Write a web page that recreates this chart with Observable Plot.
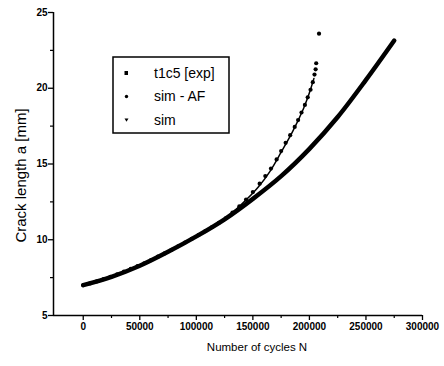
<!DOCTYPE html>
<html><head><meta charset="utf-8">
<script src="https://cdn.jsdelivr.net/npm/d3@7"></script>
<script src="https://cdn.jsdelivr.net/npm/@observablehq/plot@0.6"></script>
<style>
body{margin:0;background:#fff;}
#wrap{position:relative;width:444px;height:366px;}
</style></head><body><div id="wrap"></div>
<script>
const simN = [0,25000,50000,75000,100000,125000,150000,175000,200000,225000,250000,275000];
const simA = [7.0,7.55,8.28,9.2,10.22,11.35,12.7,14.2,16.0,18.1,20.55,23.15];
const simAfN = [0,25000,50000,75000,100000,125000,135000,145000,155000,165000,175000,185000,195000,200000,204000];
const simAfA = [7.0,7.55,8.28,9.2,10.22,11.37,12.0,12.7,13.5,14.5,15.78,17.12,18.7,19.7,20.65];
const expN = [0,6000,12000,18000,24000,30000,36000,42000,48000,54000,60000,66000,72000,78000,84000,90000,96000,102000,108000,114000,120000,126000,132000,138000,144000,150000,156000,161000,166000,171000,175000,179000,183000,187000,190000,193000,196000,198500,201000,203000,204500,205500,206000,208500];
const expA = [7.0,7.12,7.25,7.4,7.55,7.72,7.9,8.08,8.26,8.45,8.66,8.88,9.1,9.33,9.57,9.82,10.06,10.31,10.57,10.84,11.12,11.42,11.8,12.2,12.65,13.15,13.7,14.2,14.7,15.3,15.85,16.4,16.9,17.45,17.9,18.4,18.9,19.4,19.9,20.4,20.9,21.25,21.65,23.6];
const xTicks = [0,50000,100000,150000,200000,250000,300000];
const xMinor = [25000,75000,125000,175000,225000,275000];
const yTicks = [5,10,15,20,25];
const yMinor = [7.5,12.5,17.5,22.5];
const legendLabels = ["t1c5 [exp]","sim - AF","sim"];
const xTitle = "Number of cycles N";
const yTitle = "Crack length a [mm]";

const sim = simN.map((n,i)=>({n, a: simA[i]}));
const simAf = simAfN.map((n,i)=>({n, a: simAfA[i]}));
const exp = expN.map((n,i)=>({n, a: expA[i]}));
const FONT = '"Liberation Sans", Arial, sans-serif';

const chart = Plot.plot({
  width: 444, height: 366,
  marginLeft: 53, marginRight: 22, marginTop: 12, marginBottom: 51,
  style: {fontFamily: FONT, fontSize: "11px", color: "#000", background: "#fff"},
  x: {domain: [-26300, 300000]},
  y: {domain: [5, 25]},
  marks: [
    Plot.line(sim, {x: "n", y: "a", stroke: "#000", strokeWidth: 4.5, curve: "catmull-rom"}),
    Plot.line(simAf, {x: "n", y: "a", stroke: "#000", strokeWidth: 1.5, curve: "catmull-rom"}),
    Plot.dot(exp, {x: "n", y: "a", r: 2.1, fill: "#000", stroke: null}),
    Plot.ruleY([5], {stroke: "#000", strokeWidth: 1.5}),
    Plot.ruleX([-26300], {stroke: "#000", strokeWidth: 1.5}),
    Plot.axisX(xTicks, {tickSize: 5, tickPadding: 2, tickFormat: d => String(d), label: null, strokeWidth: 1.3, fontWeight: "bold", fontSize: 10}),
    Plot.axisX(xMinor, {tickSize: 3, tickFormat: () => "", label: null, strokeWidth: 1.2}),
    Plot.axisY(yTicks, {tickSize: 5, tickPadding: 1, tickFormat: d => String(d), label: null, strokeWidth: 1.3, fontWeight: "bold", fontSize: 10}),
    Plot.axisY(yMinor, {tickSize: 3, tickFormat: () => "", label: null, strokeWidth: 1.2}),
    Plot.text([xTitle], {text: d => d, frameAnchor: "bottom", textAnchor: "middle", dx: 19, dy: 35, fontSize: 11.5}),
    Plot.text([yTitle], {text: d => d, frameAnchor: "left", textAnchor: "middle", rotate: -90, dx: -32, dy: 11.5, fontSize: 15})
  ]
});
document.getElementById("wrap").appendChild(chart);

// legend box inside plot area
const svg = d3.select(chart);
const g = svg.append("g").attr("font-family", FONT).attr("font-size", 14).attr("text-anchor", "start");
g.append("rect").attr("x", 113).attr("y", 57).attr("width", 116).attr("height", 76)
  .attr("fill", "#fff").attr("stroke", "#000").attr("stroke-width", 1.5);
const rowsY = [73, 96.5, 120];
legendLabels.forEach((t, i) => {
  const cy = rowsY[i];
  if (i === 0) g.append("rect").attr("x", 124.5).attr("y", cy - 2).attr("width", 3.5).attr("height", 4).attr("fill", "#000");
  else if (i === 1) g.append("circle").attr("cx", 126.5).attr("cy", cy).attr("r", 1.7).attr("fill", "#000");
  else g.append("path").attr("d", `M${124.5},${cy-1.5}L${128.5},${cy-1.5}L${126.5},${cy+1.8}Z`).attr("fill", "#000");
  g.append("text").attr("x", 154).attr("y", cy).attr("dy", "0.35em").attr("fill", "#000").attr("text-anchor", "start").text(t);
});
</script></body></html>
